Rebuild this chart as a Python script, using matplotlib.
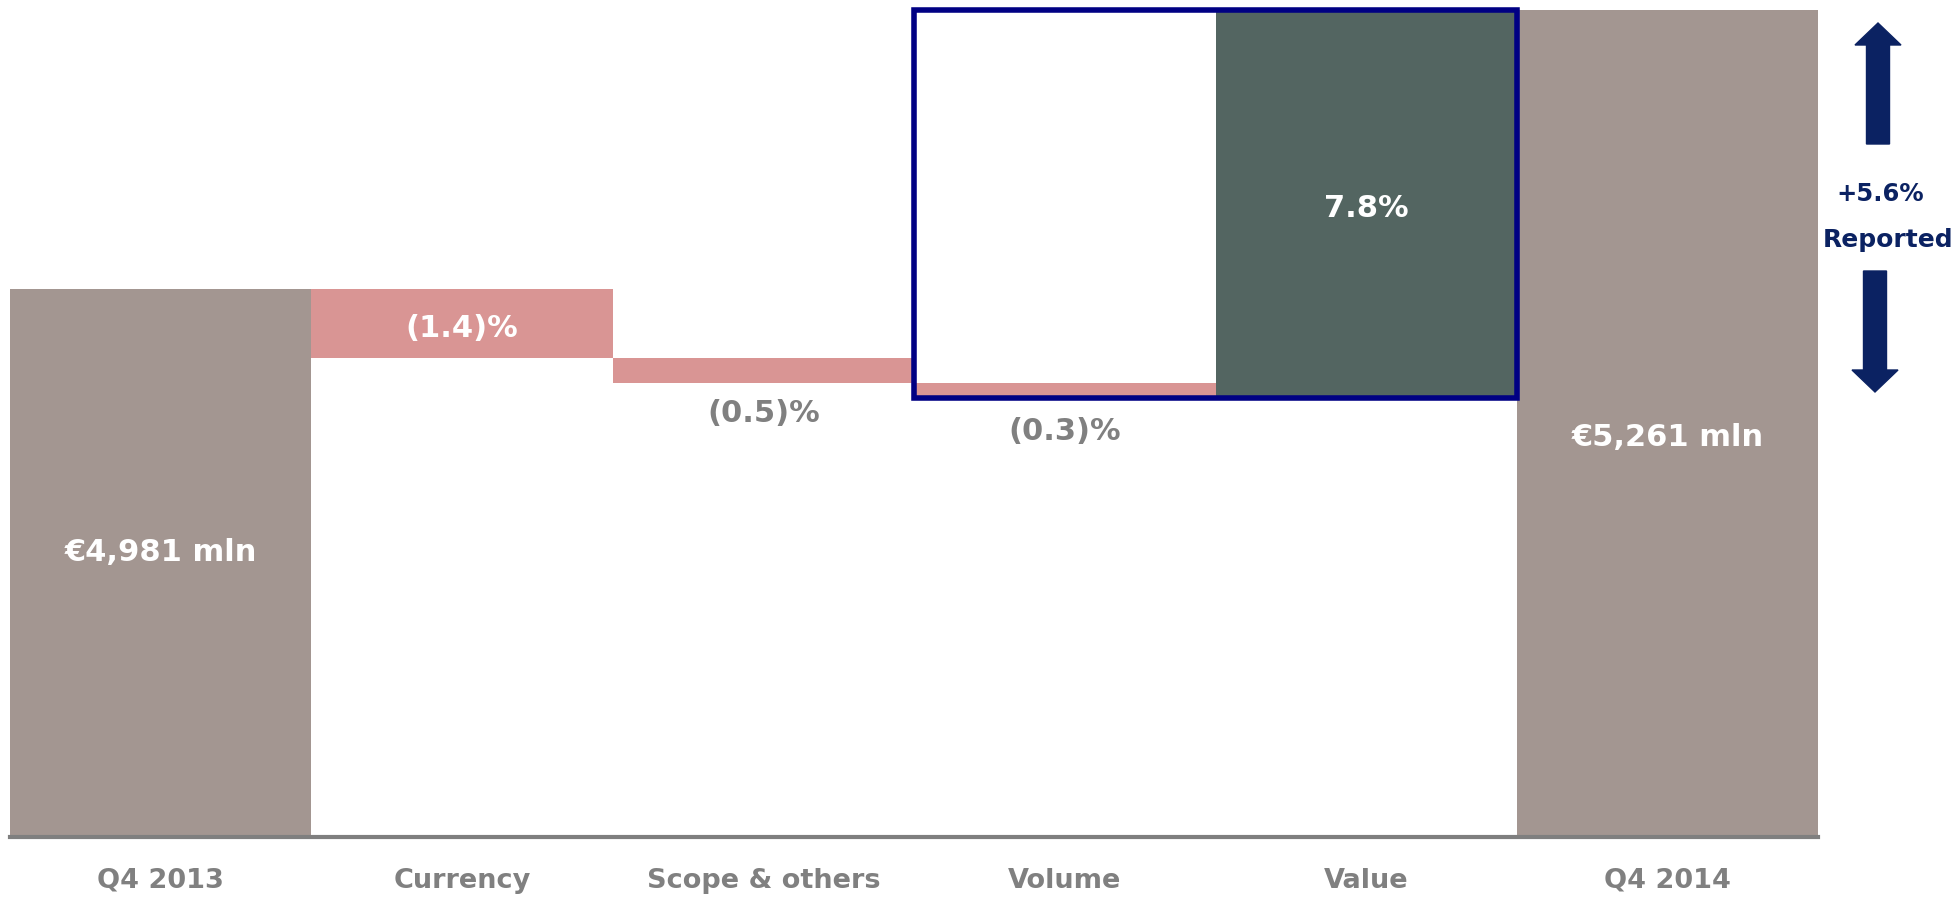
import matplotlib.pyplot as plt
from matplotlib.patches import Rectangle, FancyArrow

categories = ["Q4 2013", "Currency", "Scope & others", "Volume", "Value", "Q4 2014"]
start_value = 4981
end_value = 5261
changes_pct = [-1.4, -0.5, -0.3, 7.8]
change_labels = ["(1.4)%", "(0.5)%", "(0.3)%", "7.8%"]
total_labels = ["€4,981 mln", "€5,261 mln"]
reported_label = ["+5.6%", "Reported"]

c_total = "#a39691"
c_neg = "#d99594"
c_pos = "#536561"
c_navy = "#000083"
c_arrow = "#0b2262"
c_grey = "#808080"

plt.rcParams['font.family'] = ['DejaVu Sans']

fig = plt.figure(figsize=(19.53, 8.98), dpi=100)
ax = fig.add_axes([8 / 1568, 49 / 721, 1452 / 1568, 672 / 721])
y0 = 4431
ax.set_ylim(y0, 5271)
ax.set_xlim(-0.5, 5.5)

# running totals for the bridge
steps = [start_value * p / 100 for p in changes_pct]
level = [start_value]
for s in steps:
    level.append(level[-1] + s)

ax.bar(0, start_value - y0, bottom=y0, width=1.0, color=c_total)
ax.bar(5, end_value - y0, bottom=y0, width=1.0, color=c_total)
for i, s in enumerate(steps):
    lo = min(level[i], level[i + 1])
    hi = max(level[i], level[i + 1])
    if i == 3:
        hi = end_value
    ax.bar(i + 1, hi - lo, bottom=lo, width=1.0, color=c_pos if s > 0 else c_neg)

# labels
bold = dict(fontsize=22, fontweight='bold', ha='center', va='center')
ax.text(0, (y0 + start_value) / 2 + 10, total_labels[0], color='white', **bold)
ax.text(5, (y0 + end_value) / 2 - 14, total_labels[1], color='white', **bold)
ax.text(1, (level[0] + level[1]) / 2 - 5, change_labels[0], color='white', **bold)
ax.text(2, level[2] - 30, change_labels[1], color=c_grey, **bold)
ax.text(3, level[3] - 33, change_labels[2], color=c_grey, **bold)
ax.text(4, (level[3] + end_value) / 2 - 4, change_labels[3], color='white', **bold)

# highlight box round volume and value
ax.add_patch(Rectangle((2.5, level[3]), 2.0, end_value - level[3], fill=False,
                       edgecolor=c_navy, linewidth=4, clip_on=False, zorder=5))

ax.set_xticks(range(len(categories)))
ax.set_xticklabels(categories, fontsize=19.5, fontweight='bold', color=c_grey)
ax.tick_params(axis='x', length=0, pad=22)
ax.set_yticks([])
for side in ['top', 'left', 'right']:
    ax.spines[side].set_visible(False)
ax.spines['bottom'].set_color('#7f7f7f')
ax.spines['bottom'].set_linewidth(3)

# reported growth arrows, drawn in pixel space
ov = fig.add_axes([0, 0, 1, 1])
ov.set_xlim(0, 1953)
ov.set_ylim(898, 0)
ov.axis('off')
ov.add_patch(FancyArrow(1878, 144, 0, -121, width=23, head_width=46, head_length=22,
                        length_includes_head=True, color=c_arrow))
ov.add_patch(FancyArrow(1875, 271, 0, 121, width=23, head_width=46, head_length=22,
                        length_includes_head=True, color=c_arrow))
ov.text(1880, 194, reported_label[0], color=c_arrow, fontsize=17.5, fontweight='bold',
        ha='center', va='center')
ov.text(1888, 240, reported_label[1], color=c_arrow, fontsize=18, fontweight='bold',
        ha='center', va='center')

fig.savefig("out.png", dpi=100)
